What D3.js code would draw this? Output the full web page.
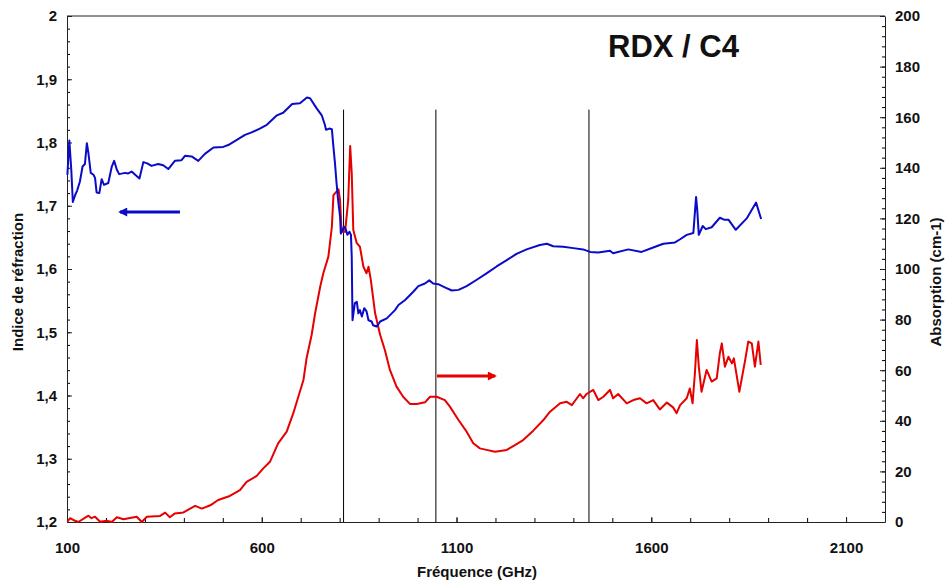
<!DOCTYPE html>
<html><head><meta charset="utf-8">
<script src="https://cdn.jsdelivr.net/npm/d3@7"></script>
<style>
html,body{margin:0;padding:0;background:#fff;}
svg text{font-family:Arial,"Liberation Sans",sans-serif;font-weight:bold;fill:#111;}
</style></head>
<body><svg id="c" width="948" height="585"></svg>
<script>
// ---- Data ----
const title = "RDX / C4";
const xLabel = "Fréquence (GHz)";
const yLeftLabel = "Indice de réfraction";
const yRightLabel = "Absorption (cm-1)";
const xTicks = [100, 600, 1100, 1600, 2100];
const yLeftTicks = [1.2, 1.3, 1.4, 1.5, 1.6, 1.7, 1.8, 1.9, 2];
const yRightTicks = [0, 20, 40, 60, 80, 100, 120, 140, 160, 180, 200];
const markerFreqs = [810, 1047, 1440];
const markerTop = 163;

// Refractive index (left axis)
const indexFreq = [101,106,111,115,121,126,133,140,146,151,155,161,168,172,176,183,189,195,206,215,221,228,234,249,257,266,275,286,296,306,317,334,347,360,377,394,403,420,437,454,476,501,514,536,557,574,595,613,639,655,678,698,716,724,741,754,762,765,773,780,784,788,792,796,801,803,811,816,820,825,829,831,832,833,839,844,848,852,857,863,869,874,882,886,895,904,921,942,951,968,989,1002,1019,1030,1040,1053,1070,1088,1105,1126,1152,1177,1203,1229,1254,1280,1314,1332,1348,1374,1400,1425,1443,1464,1494,1502,1541,1575,1605,1631,1661,1674,1691,1708,1715,1718,1722,1732,1740,1755,1776,1787,1798,1817,1845,1869,1882];
const indexVal = [1.749,1.803,1.757,1.706,1.717,1.724,1.738,1.762,1.766,1.799,1.783,1.752,1.749,1.744,1.721,1.720,1.742,1.733,1.736,1.762,1.771,1.757,1.750,1.752,1.751,1.754,1.749,1.743,1.769,1.767,1.763,1.766,1.764,1.758,1.771,1.772,1.779,1.778,1.771,1.782,1.792,1.793,1.796,1.804,1.812,1.816,1.822,1.828,1.843,1.847,1.861,1.862,1.871,1.870,1.854,1.843,1.828,1.820,1.822,1.821,1.793,1.767,1.736,1.709,1.683,1.656,1.667,1.662,1.654,1.659,1.654,1.619,1.567,1.519,1.546,1.548,1.530,1.535,1.525,1.538,1.533,1.519,1.517,1.511,1.509,1.517,1.522,1.535,1.543,1.551,1.564,1.573,1.577,1.582,1.577,1.576,1.571,1.566,1.567,1.573,1.583,1.593,1.604,1.614,1.624,1.631,1.638,1.640,1.636,1.635,1.633,1.631,1.627,1.626,1.629,1.625,1.631,1.627,1.634,1.640,1.642,1.647,1.654,1.657,1.714,1.693,1.654,1.668,1.663,1.666,1.681,1.678,1.678,1.662,1.680,1.705,1.679];

// Absorption (right axis)
const absFreq = [101,108,116,129,155,163,172,185,202,215,228,245,279,292,305,339,352,364,377,399,429,446,468,488,518,544,561,587,604,621,642,664,681,707,715,728,737,750,758,771,780,784,797,801,805,814,822,827,831,835,844,852,861,869,874,880,891,904,916,929,946,963,981,998,1019,1032,1049,1070,1083,1105,1126,1143,1160,1177,1199,1229,1250,1271,1297,1323,1340,1366,1383,1396,1417,1425,1434,1451,1464,1477,1494,1502,1515,1537,1554,1571,1588,1605,1622,1640,1656,1665,1674,1691,1699,1706,1712,1717,1722,1729,1742,1755,1768,1776,1781,1789,1798,1807,1812,1826,1841,1849,1858,1866,1875,1881];
const absVal = [0.1,1.5,0.8,0,2.5,1.5,2.1,0.1,0.5,0,1.9,1.1,2.1,0,2.1,2.4,3.7,1.9,3.4,3.8,6.4,5.3,6.6,8.7,10.3,12.6,15.9,18.2,21.2,23.8,31.1,35.7,43.0,56.1,64.7,73.9,82.5,93.0,98.3,104.9,116.7,129.2,131.5,127.3,114.7,114.7,127.3,148.6,137.8,115.4,110.2,108.8,100.9,98.3,100.9,95.7,82.5,73.9,68.0,60.1,53.5,49.5,46.6,46.6,47.3,49.5,49.5,48.2,45.6,40.3,35.7,31.1,29.1,28.5,27.8,28.5,30.4,32.4,36.1,40.3,43.6,46.9,47.5,46.2,50.6,48.9,50.6,52.2,48.2,49.5,52.2,48.9,50.6,46.9,48.2,48.9,46.9,48.2,44.5,47.2,45.3,43.0,46.2,48.9,52.8,46.9,58.8,71.9,61.4,51.5,60.1,55.5,56.8,66.7,70.6,61.4,65.3,62.7,64.7,51.5,64.0,71.3,70.6,61.4,71.3,62.1];

// Direction arrows
const leftArrow = {from: 390, to: 236, value: 1.690};
const rightArrow = {from: 1199 - 149, to: 1199, value: 57.7};

// ---- Drawing ----
const svg = d3.select("#c");
const L = 67, R = 885, T = 16, B = 522;
const x = d3.scaleLinear().domain([100, 2200]).range([L, R]);
const yL = d3.scaleLinear().domain([1.2, 2]).range([B, T]);
const yR = d3.scaleLinear().domain([0, 200]).range([B, T]);
const loc = d3.formatLocale({decimal: ",", thousands: " ", grouping: [3], currency: ["", ""]});
const fmtL = loc.format(".1~f");

const BLUE = "#0a0ac8", RED = "#e60000";

// marker lines
svg.append("g").selectAll("line").data(markerFreqs).join("line")
  .attr("x1", d => x(d)).attr("x2", d => x(d))
  .attr("y1", yR(markerTop)).attr("y2", yR(0))
  .attr("stroke", "#000").attr("stroke-width", 1);

// minor ticks
function minorRange(a, b, s){ const r=[]; for(let v=a; v<=b+1e-9; v+=s) r.push(+v.toFixed(4)); return r; }
svg.append("g").attr("transform", `translate(0,${B})`)
  .call(d3.axisBottom(x).tickValues(minorRange(100, 2200, 100)).tickSize(-4).tickFormat(""))
  .call(g => g.select(".domain").remove());
svg.append("g").attr("transform", `translate(${L},0)`)
  .call(d3.axisLeft(yL).tickValues(minorRange(1.2, 2, 0.02)).tickSize(-3).tickFormat(""))
  .call(g => g.select(".domain").remove());
svg.append("g").attr("transform", `translate(${R},0)`)
  .call(d3.axisRight(yR).tickValues(minorRange(0, 200, 4)).tickSize(-3).tickFormat(""))
  .call(g => g.select(".domain").remove());

// major axes
const ax = svg.append("g").attr("transform", `translate(0,${B})`)
  .call(d3.axisBottom(x).tickValues(xTicks).tickSizeInner(-5).tickSizeOuter(0).tickPadding(20).tickFormat(d3.format("d")));
const ayl = svg.append("g").attr("transform", `translate(${L},0)`)
  .call(d3.axisLeft(yL).tickValues(yLeftTicks).tickSizeInner(-5).tickSizeOuter(0).tickPadding(10).tickFormat(fmtL));
const ayr = svg.append("g").attr("transform", `translate(${R},0)`)
  .call(d3.axisRight(yR).tickValues(yRightTicks).tickSizeInner(-5).tickSizeOuter(0).tickPadding(10).tickFormat(d3.format("d")));
[ax, ayl, ayr].forEach(g => {
  g.selectAll("text").style("font-size", "15px").style("font-family", "Arial, 'Liberation Sans', sans-serif").style("font-weight", "bold").attr("fill", "#111");
  g.select(".domain").attr("stroke", "#222");
  g.selectAll(".tick line").attr("stroke", "#222");
});
// top frame
svg.append("line").attr("x1", L).attr("x2", R).attr("y1", T).attr("y2", T).attr("stroke", "#222");

// curves
const blueData = indexFreq.map((f, i) => [f, indexVal[i]]);
const redData = absFreq.map((f, i) => [f, absVal[i]]);
svg.append("path").datum(redData)
  .attr("d", d3.line().x(d => x(d[0])).y(d => yR(d[1])))
  .attr("fill", "none").attr("stroke", RED).attr("stroke-width", 2).attr("stroke-linejoin", "round");
svg.append("path").datum(blueData)
  .attr("d", d3.line().x(d => x(d[0])).y(d => yL(d[1])))
  .attr("fill", "none").attr("stroke", BLUE).attr("stroke-width", 2).attr("stroke-linejoin", "round");

// arrows
const defs = svg.append("defs");
function marker(id, color){
  defs.append("marker").attr("id", id).attr("viewBox", "0 0 10 10").attr("refX", 8).attr("refY", 5)
    .attr("markerWidth", 3.6).attr("markerHeight", 3).attr("orient", "auto")
    .append("path").attr("d", "M0,0L10,5L0,10z").attr("fill", color);
}
marker("ab", BLUE); marker("ar", RED);
svg.append("line").attr("x1", x(leftArrow.from)).attr("x2", x(leftArrow.to))
  .attr("y1", yL(leftArrow.value)).attr("y2", yL(leftArrow.value))
  .attr("stroke", BLUE).attr("stroke-width", 3).attr("marker-end", "url(#ab)");
svg.append("line").attr("x1", x(rightArrow.from)).attr("x2", x(rightArrow.to))
  .attr("y1", yR(rightArrow.value)).attr("y2", yR(rightArrow.value))
  .attr("stroke", RED).attr("stroke-width", 3).attr("marker-end", "url(#ar)");

// titles
svg.append("text").attr("x", 608).attr("y", 57).style("font-size", "31px").text(title);
svg.append("text").attr("x", (L + R) / 2 + 1).attr("y", 577).attr("text-anchor", "middle").style("font-size", "15px").text(xLabel);
svg.append("text").attr("transform", "translate(23,282) rotate(-90)").attr("text-anchor", "middle").style("font-size", "15px").text(yLeftLabel);
svg.append("text").attr("transform", "translate(941,282) rotate(-90)").attr("text-anchor", "middle").style("font-size", "15px").text(yRightLabel);
</script></body></html>
